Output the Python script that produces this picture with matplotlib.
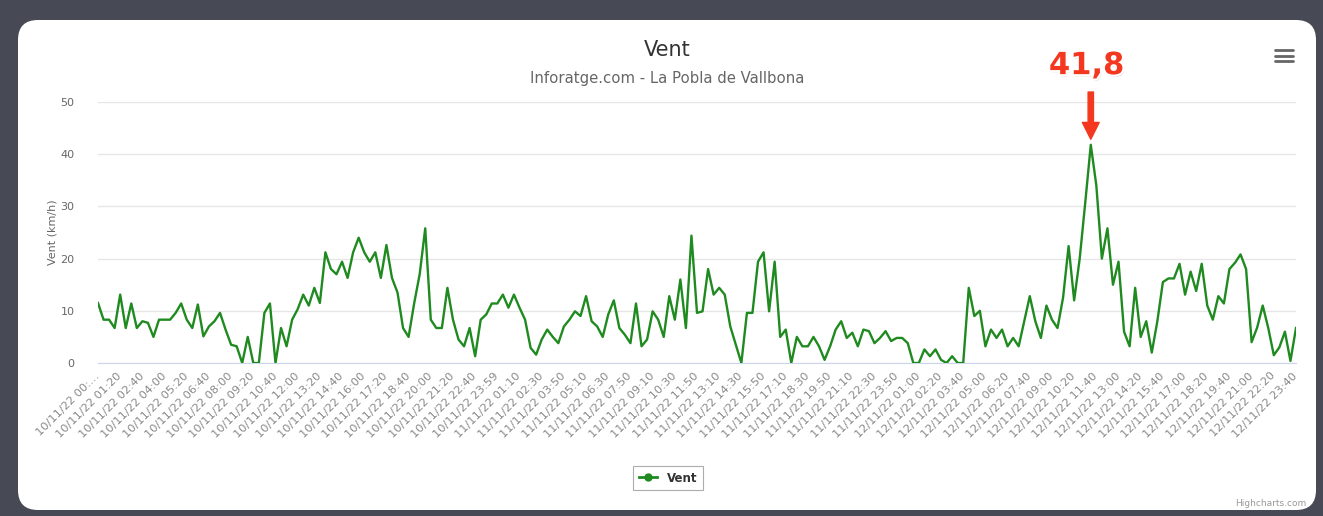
import numpy as np
import matplotlib
matplotlib.use("Agg")
import matplotlib.pyplot as plt
import matplotlib.patheffects as pe
from matplotlib.patches import FancyBboxPatch
from matplotlib.lines import Line2D

# wind speed (km/h), one value every 20 minutes, 10/11/22 00:00 -> 12/11/22 23:40
vent = [
    11.5, 8.3, 8.3, 6.7, 13.1, 6.7, 11.4, 6.7, 8.0, 7.7,
    5.0, 8.3, 8.3, 8.3, 9.6, 11.4, 8.3, 6.7, 11.2, 5.1,
    7.0, 8.0, 9.6, 6.4, 3.5, 3.2, 0.0, 5.0, 0.0, 0.0,
    9.6, 11.4, 0.0, 6.7, 3.2, 8.3, 10.3, 13.1, 11.0, 14.4,
    11.5, 21.2, 18.0, 17.0, 19.4, 16.3, 21.2, 24.0, 21.2, 19.4,
    21.2, 16.3, 22.6, 16.3, 13.5, 6.7, 5.0, 11.4, 17.0, 25.8,
    8.3, 6.7, 6.7, 14.4, 8.3, 4.5, 3.2, 6.7, 1.3, 8.3,
    9.3, 11.4, 11.4, 13.1, 10.6, 13.1, 10.6, 8.3, 2.9, 1.6,
    4.5, 6.4, 5.0, 3.8, 7.0, 8.3, 9.9, 9.0, 12.8, 8.0,
    7.0, 5.0, 9.3, 12.0, 6.7, 5.4, 3.8, 11.4, 3.2, 4.5,
    9.9, 8.3, 5.0, 12.8, 8.3, 16.0, 6.7, 24.4, 9.6, 9.9,
    18.0, 13.1, 14.4, 13.1, 7.0, 3.5, 0.0, 9.6, 9.6, 19.4,
    21.2, 9.9, 19.4, 5.0, 6.4, 0.0, 5.0, 3.2, 3.2, 5.0,
    3.2, 0.6, 3.2, 6.4, 8.0, 4.8, 5.8, 3.2, 6.4, 6.1,
    3.8, 4.8, 6.1, 4.2, 4.8, 4.8, 3.8, 0.0, 0.0, 2.6,
    1.3, 2.6, 0.6, 0.0, 1.3, 0.0, 0.0, 14.4, 9.0, 10.0,
    3.2, 6.4, 4.8, 6.4, 3.2, 4.8, 3.2, 8.0, 12.8, 8.0,
    4.8, 11.0, 8.3, 6.7, 12.5, 22.4, 12.0, 20.0, 30.7, 41.8,
    34.0, 20.0, 25.8, 15.0, 19.4, 6.0, 3.2, 14.4, 5.0, 8.0,
    2.0, 8.0, 15.5, 16.2, 16.2, 19.0, 13.1, 17.5, 13.8, 19.0,
    11.0, 8.3, 12.8, 11.4, 18.0, 19.2, 20.8, 18.0, 4.0, 6.8,
    11.0, 6.7, 1.5, 3.0, 6.0, 0.4, 6.7,
]

tick_labels = [
    "10/11/22 00:…", "10/11/22 01:20", "10/11/22 02:40", "10/11/22 04:00",
    "10/11/22 05:20", "10/11/22 06:40", "10/11/22 08:00", "10/11/22 09:20",
    "10/11/22 10:40", "10/11/22 12:00", "10/11/22 13:20", "10/11/22 14:40",
    "10/11/22 16:00", "10/11/22 17:20", "10/11/22 18:40", "10/11/22 20:00",
    "10/11/22 21:20", "10/11/22 22:40", "10/11/22 23:59",
    "11/11/22 01:10", "11/11/22 02:30", "11/11/22 03:50", "11/11/22 05:10",
    "11/11/22 06:30", "11/11/22 07:50", "11/11/22 09:10", "11/11/22 10:30",
    "11/11/22 11:50", "11/11/22 13:10", "11/11/22 14:30", "11/11/22 15:50",
    "11/11/22 17:10", "11/11/22 18:30", "11/11/22 19:50", "11/11/22 21:10",
    "11/11/22 22:30", "11/11/22 23:50",
    "12/11/22 01:00", "12/11/22 02:20", "12/11/22 03:40", "12/11/22 05:00",
    "12/11/22 06:20", "12/11/22 07:40", "12/11/22 09:00", "12/11/22 10:20",
    "12/11/22 11:40", "12/11/22 13:00", "12/11/22 14:20", "12/11/22 15:40",
    "12/11/22 17:00", "12/11/22 18:20", "12/11/22 19:40", "12/11/22 21:00",
    "12/11/22 22:20", "12/11/22 23:40",
]
y_ticks = [0, 10, 20, 30, 40, 50]

plt.rcParams["font.family"] = ["DejaVu Sans"]

W, H, DPI = 1323, 516, 100
fig = plt.figure(figsize=(W / DPI, H / DPI), dpi=DPI, facecolor="#474a54")

# white rounded card
card = FancyBboxPatch((18 / DPI, 6 / DPI), 1298 / DPI, 490 / DPI,
                      boxstyle="round,pad=0,rounding_size=0.2",
                      transform=fig.dpi_scale_trans, facecolor="white",
                      edgecolor="none", zorder=-10)
fig.patches.append(card)

ax = fig.add_axes([98 / W, 1 - 363 / H, 1198 / W, 261 / H])
ax.set_facecolor("none")

x = np.arange(len(vent))
ax.plot(x, vent, color="#1f8a1f", lw=1.7, solid_joinstyle="round", zorder=3)

ax.set_xlim(0, len(vent) - 1)
ax.set_ylim(0, 50)
ax.set_yticks(y_ticks)
ax.grid(axis="y", color="#e6e6e6", lw=1)
ax.set_axisbelow(True)
for s in ["top", "right", "left"]:
    ax.spines[s].set_visible(False)
ax.spines["bottom"].set_color("#ccd6eb")
ax.tick_params(axis="y", length=0, pad=17, labelsize=8, labelcolor="#666666")

step = (len(vent) - 1) // (len(tick_labels) - 1)
ax.set_xticks(np.arange(0, len(vent), step))
ax.set_xticklabels(tick_labels, rotation=45, ha="right", va="center",
                   rotation_mode="anchor", fontsize=8.2, color="#888888")
ax.tick_params(axis="x", length=0, pad=8)

# titles
fig.text(0.504, 1 - 50 / H, "Vent", ha="center", va="center", fontsize=15, color="#333333")
fig.text(0.504, 1 - 78 / H, "Inforatge.com - La Pobla de Vallbona", ha="center",
         va="center", fontsize=10.7, color="#666666")
fig.text(52 / W, 1 - 232 / H, "Vent (km/h)", rotation=90, ha="center", va="center",
         fontsize=8, color="#666666")

# peak annotation
peak_i = int(np.argmax(vent))
peak_v = vent[peak_i]
red = "#f4371f"
ax.annotate("", xy=(peak_i, peak_v), xytext=(0, 38), textcoords="offset points",
            arrowprops=dict(arrowstyle="simple,head_length=1.1,head_width=1.1,tail_width=0.35",
                            color=red, shrinkA=0, shrinkB=4, mutation_scale=11),
            zorder=5)
ax.annotate(f"{peak_v:.1f}".replace(".", ","), xy=(peak_i, peak_v),
            xytext=(-3, 57), textcoords="offset points", ha="center", va="center",
            fontsize=22, fontweight="bold", color=red, annotation_clip=False,
            path_effects=[pe.withSimplePatchShadow(offset=(1, -1.5), shadow_rgbFace="#888888", alpha=0.5),
                          pe.withStroke(linewidth=3, foreground="white")])

# legend
leg = ax.legend([Line2D([0], [0], color="#1f8a1f", lw=2, marker="o", markersize=5)], ["Vent"],
                loc="center", bbox_to_anchor=(668 / W, 1 - 478 / H),
                bbox_transform=fig.transFigure, frameon=True, fancybox=False,
                edgecolor="#999999", handlelength=1.6, borderpad=0.45,
                prop=dict(size=8.5, weight="bold"))
leg.get_frame().set_linewidth(0.8)
for t in leg.get_texts():
    t.set_color("#333333")

# menu icon
for yy in (50, 55.5, 61):
    fig.add_artist(Line2D([1275 / W, 1293 / W], [1 - yy / H, 1 - yy / H],
                          transform=fig.transFigure, color="#666666", lw=2.0,
                          solid_capstyle="round"))

fig.text(1306 / W, 1 - 504 / H, "Highcharts.com", ha="right", va="center",
         fontsize=6.5, color="#999999")

fig.savefig("out.png", dpi=DPI, facecolor=fig.get_facecolor())
